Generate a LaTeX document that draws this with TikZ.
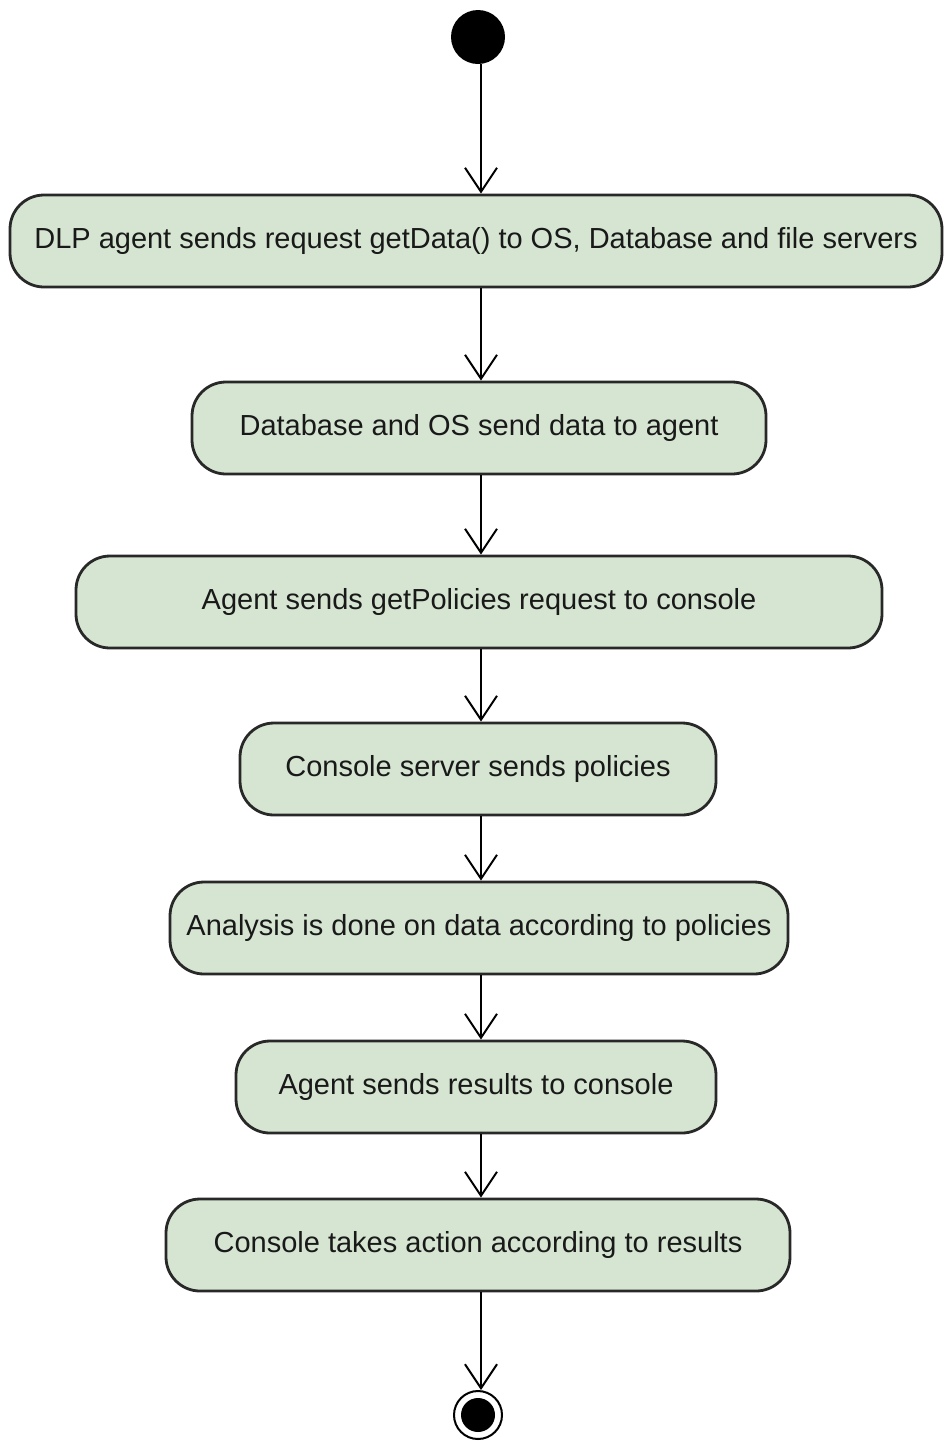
\documentclass[tikz,border=0pt]{standalone}
\usepackage{fontspec}
\setmainfont{Liberation Sans}
\usetikzlibrary{arrows.meta}
\definecolor{actfill}{RGB}{213,229,209}
\definecolor{actline}{RGB}{40,40,40}
\begin{document}
\begin{tikzpicture}[x=0.5pt,y=-0.5pt,
  activity/.style={draw=actline, fill=actfill, line width=1.4pt, rounded corners=17pt,
    minimum height=46pt, inner sep=0pt, font=\fontsize{14.5}{17}\selectfont, text=black!90},
  flow/.style={line width=1pt, -{Straight Barb[length=12pt,width=16pt,line width=1pt]}}]
\useasboundingbox (0,0) rectangle (943,1441);
\node[circle, fill=black, minimum size=27pt, inner sep=0pt] (start) at (478,37) {};
\node[activity, minimum width=466pt] (a1) at (476,241) {DLP agent sends request getData() to OS, Database and file servers};
\node[activity, minimum width=287pt] (a2) at (479,428) {Database and OS send data to agent};
\node[activity, minimum width=403pt] (a3) at (479,602) {Agent sends getPolicies request to console};
\node[activity, minimum width=238pt] (a4) at (478,769) {Console server sends policies};
\node[activity, minimum width=309pt] (a5) at (479,928) {Analysis is done on data according to policies};
\node[activity, minimum width=240pt] (a6) at (476,1087) {Agent sends results to console};
\node[activity, minimum width=312pt] (a7) at (478,1245) {Console takes action according to results};
\node[circle, draw=black, line width=1pt, minimum size=24pt, inner sep=0pt] (stop) at (478,1415) {};
\fill[black] (stop.center) circle (8.5pt);
\draw[flow] (start.south -| 481,0) -- (a1.north -| 481,0);
\draw[flow] (a1.south -| 481,0) -- (a2.north -| 481,0);
\draw[flow] (a2.south -| 481,0) -- (a3.north -| 481,0);
\draw[flow] (a3.south -| 481,0) -- (a4.north -| 481,0);
\draw[flow] (a4.south -| 481,0) -- (a5.north -| 481,0);
\draw[flow] (a5.south -| 481,0) -- (a6.north -| 481,0);
\draw[flow] (a6.south -| 481,0) -- (a7.north -| 481,0);
\draw[flow] (a7.south -| 481,0) -- (stop.north -| 481,0);
\end{tikzpicture}
\end{document}
